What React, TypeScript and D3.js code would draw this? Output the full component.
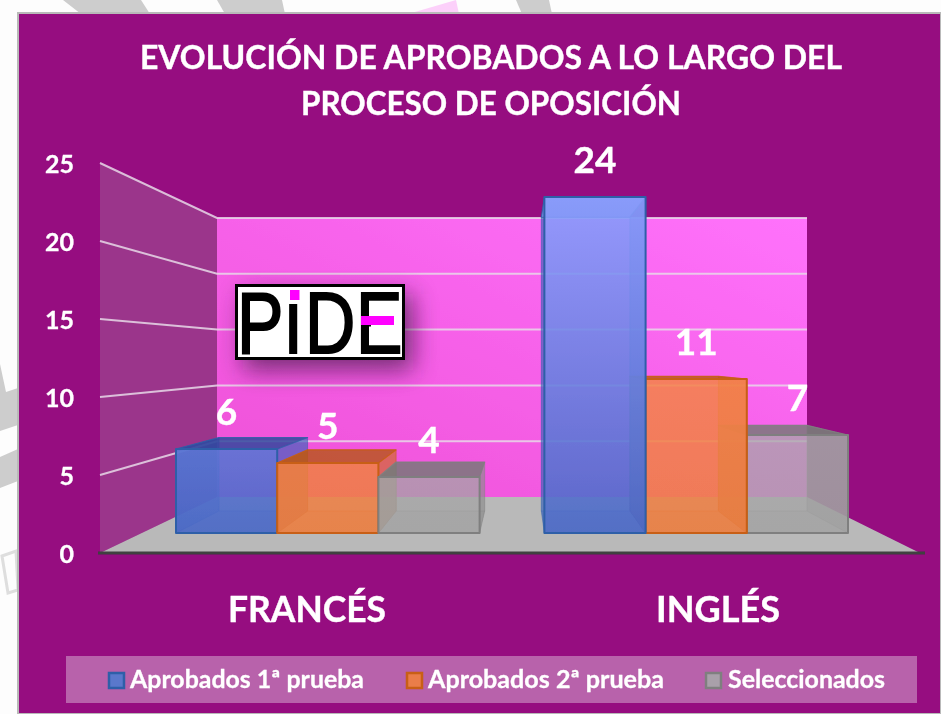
import React from "react";
import * as d3 from "d3";

const titleLines = ["EVOLUCIÓN DE APROBADOS A LO LARGO DEL", "PROCESO DE OPOSICIÓN"];
const titleWidths = [702, 380];
const categories = ["FRANCÉS", "INGLÉS"];
const categoryWidths = [158, 124];
const seriesNames = ["Aprobados 1ª prueba", "Aprobados 2ª prueba", "Seleccionados"];
const aprobados1 = [6, 24];
const aprobados2 = [5, 11];
const seleccionados = [4, 7];
const yTicks = [0, 5, 10, 15, 20, 25];

const gradTop = ["#8a9fff", "#ff8a52", "#b4b0b8"];
const gradBottom = ["#4a68c6", "#ee7e40", "#a4a4a4"];
const sideFills = ["#3a62bc", "#d06a24", "#8c8c8c"];
const topDark = ["#30459c", "#b8561c", "#777777"];
const topLit = ["#7d97ea", "#cc6420", "#777777"];
const strokes = ["#2f5fa8", "#c85f12", "#7f7f7f"];
const frontOpacity = [0.88, 0.84, 0.72];
const swatchFills = ["#5a78cc", "#ea7d48", "#a9a0aa"];
const legendTextX = [130, 428, 728];
const legendTextW = [234, 236, 157];
const legendSwatchX = [108, 406, 705];

const logoWord = "PIDE";
const logoGlyphX = [237, 283.5, 305, 356];
const LOGO_SCALE = 0.8;

const FONT = "Lato, 'Open Sans', sans-serif";
const allSeries = [aprobados1, aprobados2, seleccionados];

const yWallFront = d3.scaleLinear().domain([0, 25]).range([553, 163]);
const yWallBack = d3.scaleLinear().domain([0, 25]).range([497, 218]);
const yBarFront = d3.scaleLinear().domain([0, 25]).range([533, 183]);
const yBarBack = d3.scaleLinear().domain([0, 25]).range([511, 205]);
const slot = d3.scalePoint<string>().domain(categories).range([0, 3.64]);
const xBarFront = d3.scaleLinear().domain([0, 6.64]).range([176, 848]);
const xBarBack = d3.scaleLinear().domain([0, 6.64]).range([219, 807]);
const xCat = d3.scalePoint<string>().domain(categories).range([307, 718]);
const xWall = (i: number) => [100, 217, 807][i];

const poly = d3.line<[number, number]>();
const closed = (pts: [number, number][]) => poly(pts) + "Z";

function Bar({ s, c, v }: { s: number; c: number; v: number }) {
  const start = slot(categories[c])! + s;
  const fl = xBarFront(start), fr = xBarFront(start + 1);
  const bl = xBarBack(start), br = xBarBack(start + 1);
  const ft = yBarFront(v), fb = yBarFront(0), bt = yBarBack(v), bb = yBarBack(0);
  const topFill = bt > ft ? topLit[s] : topDark[s];
  const faces: { d: string; o: number; f: string; so: number; sw: number }[] = [
    { d: closed([[bl, bt], [br, bt], [br, bb], [bl, bb]]), o: 0.1, f: sideFills[s], so: 0.25, sw: 1 },
    { d: closed([[fl, fb], [fr, fb], [br, bb], [bl, bb]]), o: 0.3, f: sideFills[s], so: 0.2, sw: 1 },
    { d: closed([[fl, ft], [bl, bt], [bl, bb], [fl, fb]]), o: 0.62, f: sideFills[s], so: 0.3, sw: 1 },
    { d: closed([[fr, ft], [br, bt], [br, bb], [fr, fb]]), o: 0.62, f: sideFills[s], so: 0.3, sw: 1 },
    { d: closed([[fl, ft], [fr, ft], [br, bt], [bl, bt]]), o: 0.82, f: topFill, so: 0.8, sw: 1.2 },
    { d: closed([[fl, ft], [fr, ft], [fr, fb], [fl, fb]]), o: frontOpacity[s], f: `url(#barGrad${s})`, so: 1, sw: 2 },
  ];
  return (
    <g>
      {faces.map((f, i) => (
        <path key={i} d={f.d} fill={f.f} fillOpacity={f.o} stroke={strokes[s]} strokeOpacity={f.so} strokeWidth={f.sw} strokeLinejoin="round" />
      ))}
    </g>
  );
}

export default function App() {
  return (
    <svg width={941} height={714} style={{ position: "absolute", left: 0, top: 0, display: "block" }} fontFamily={FONT}>
      <defs>
        <linearGradient id="wall" x1="0" y1="1" x2="1" y2="0">
          <stop offset="0" stopColor="#ee50d6" />
          <stop offset="1" stopColor="#ff72fc" />
        </linearGradient>
        {gradTop.map((g, i) => (
          <linearGradient key={g} id={`barGrad${i}`} gradientUnits="userSpaceOnUse" x1="0" y1={yBarFront(24)} x2="0" y2={yBarFront(0)}>
            <stop offset="0" stopColor={g} />
            <stop offset="1" stopColor={gradBottom[i]} />
          </linearGradient>
        ))}
        <filter id="soft" x="-30%" y="-30%" width="170%" height="170%">
          <feGaussianBlur stdDeviation="12" />
        </filter>
        <filter id="upscale" x="0" y="0" width="100%" height="100%">
          <feGaussianBlur stdDeviation="0.5" />
        </filter>
      </defs>

      <g filter="url(#upscale)">
        <rect width={941} height={714} fill="#fdfdfd" />
        <g fill="#cdcdcd">
          <path d="M63,0 L141,0 L150,14 L81,14Z" />
          <path d="M217,0 L282,0 L285,14 L225,14Z" />
          <path d="M516,0 L549,0 L552,14 L522,14Z" />
          <path d="M0,364 L6,392 L18,388 L18,425 L0,431Z" />
          <path d="M0,457 L18,449 L18,481 L0,488Z" />
        </g>
        <path d="M408,14 L456,0 L459,14Z" fill="#fcd0fa" />
        <path d="M2,556 L16,551 L18,590 L8,593Z" fill="none" stroke="#dedede" strokeWidth={3} />

        <rect x={18} y={13} width={923} height={701} fill="#960b80" stroke="#b9b9b9" strokeWidth={2} />

        <g textAnchor="middle" fill="#fff" stroke="#fff" strokeWidth={0.4} fontWeight={700} fontSize={33}>
          {titleLines.map((t, i) => (
            <text key={t} x={491} y={69 + i * 46} textLength={titleWidths[i]} lengthAdjust="spacingAndGlyphs">{t}</text>
          ))}
        </g>

        <path d={closed([[xWall(0), yWallFront(25)], [xWall(1), yWallBack(25)], [xWall(1), yWallBack(0)], [xWall(0), yWallFront(0)]])} fill="#9b368b" />
        <rect x={xWall(1)} y={yWallBack(25)} width={xWall(2) - xWall(1)} height={yWallBack(0) - yWallBack(25)} fill="url(#wall)" />
        <path d={closed([[xWall(0), yWallFront(0)], [xWall(1), yWallBack(0)], [xWall(2), yWallBack(0)], [920, yWallFront(0)]])} fill="#b9b9b9" />
        <g stroke="#e8d8e8" strokeOpacity={0.85} strokeWidth={2} fill="none">
          {yTicks.filter((t) => t > 0).map((t) => (
            <path key={t} d={poly([[xWall(0), yWallFront(t)], [xWall(1), yWallBack(t)], [xWall(2), yWallBack(t)]])!} />
          ))}
        </g>
        <line x1={98} x2={925} y1={yWallFront(0)} y2={yWallFront(0)} stroke="#3f3f3f" strokeWidth={3} />

        {/* logo */}
        <rect x={243} y={294} width={170} height={76} fill="#2a1030" opacity={0.62} filter="url(#soft)" />
        <rect x={236.5} y={285.5} width={167} height={73} fill="#fff" stroke="#000" strokeWidth={3} />
        <text transform={`scale(${LOGO_SCALE},1)`} x={logoGlyphX.map((x) => x / LOGO_SCALE).join(" ")} y={353.5}
          fontFamily="'Liberation Sans', sans-serif" fontSize={87} fill="#000" stroke="#000" strokeWidth={2}>{logoWord}</text>
        <rect x={287} y={288} width={15} height={16} fill="#fff" />
        <rect x={290} y={290} width={9.5} height={10} fill="#ff00ff" />
        <rect x={371} y={313} width={31} height={15} fill="#fff" />
        <rect x={361} y={316} width={33} height={9} fill="#ff00ff" />

        {/* Inglés stacks right-to-left: the blue side face lies over the orange one */}
        <Bar s={0} c={0} v={allSeries[0][0]} />
        <Bar s={1} c={0} v={allSeries[1][0]} />
        <Bar s={2} c={0} v={allSeries[2][0]} />
        <Bar s={2} c={1} v={allSeries[2][1]} />
        <Bar s={1} c={1} v={allSeries[1][1]} />
        <Bar s={0} c={1} v={allSeries[0][1]} />

        <g textAnchor="middle" fill="#fff" stroke="#fff" strokeWidth={0.4} fontWeight={700} fontSize={37}>
          {categories.flatMap((cat, c) =>
            allSeries.map((vals, s) => {
              const st = slot(cat)! + s;
              return (
                <text key={`${c}-${s}`} x={xBarFront(st + 0.5)} y={yBarFront(vals[c]) - 24}>{vals[c]}</text>
              );
            })
          )}
        </g>

        <g textAnchor="end" fill="#fff" stroke="#fff" strokeWidth={0.3} fontWeight={700} fontSize={25}>
          {yTicks.map((t) => (
            <text key={t} x={74} y={yWallFront(t) + 9.5}>{t}</text>
          ))}
        </g>

        <g textAnchor="middle" fill="#fff" stroke="#fff" strokeWidth={0.4} fontWeight={700} fontSize={37}>
          {categories.map((c, i) => (
            <text key={c} x={xCat(c)} y={622} textLength={categoryWidths[i]} lengthAdjust="spacingAndGlyphs">{c}</text>
          ))}
        </g>

        <rect x={66} y={656} width={851} height={47} fill="#b862ab" />
        {seriesNames.map((n, i) => (
          <g key={n}>
            <rect x={legendSwatchX[i] + 1} y={673} width={15} height={15} fill={swatchFills[i]} stroke={strokes[i]} strokeWidth={2.5} />
            <text x={legendTextX[i]} y={688} fontSize={24} fontWeight={700} fill="#fff" stroke="#fff" strokeWidth={0.3}
              textLength={legendTextW[i]} lengthAdjust="spacingAndGlyphs">{n}</text>
          </g>
        ))}
      </g>
    </svg>
  );
}
